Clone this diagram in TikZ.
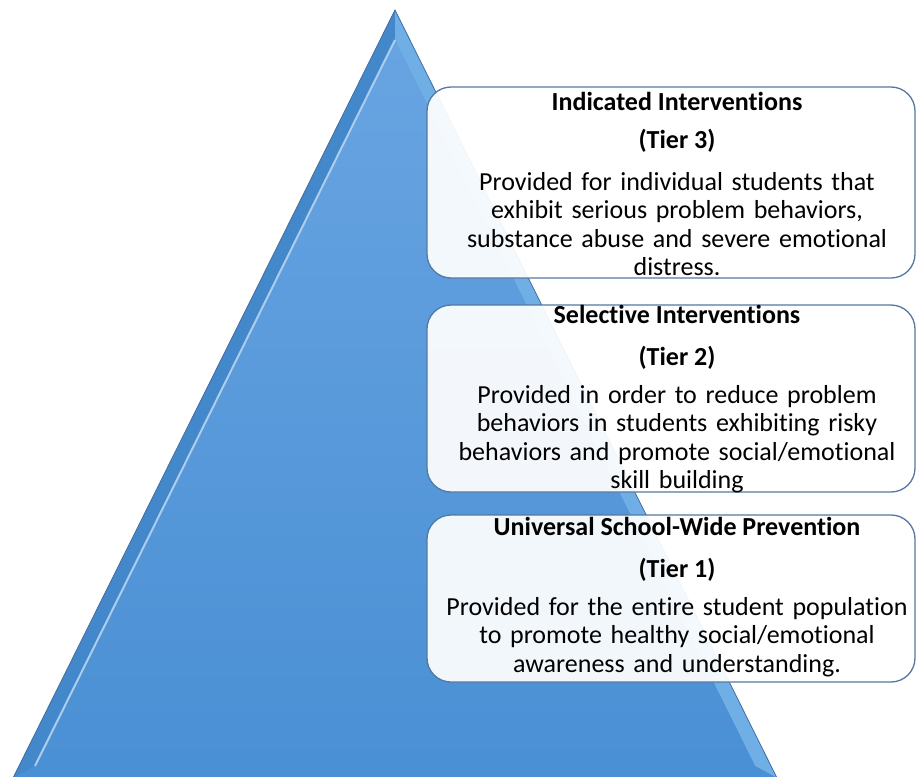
\documentclass[tikz,border=0pt]{standalone}
\usepackage{fontspec}
\setmainfont{Carlito}[Ligatures=NoCommon]
\usetikzlibrary{calc,positioning}
\definecolor{pyrblue}{RGB}{74,144,212}
\definecolor{pyrtop}{RGB}{104,164,226}
\definecolor{pyrdark}{RGB}{68,136,204}
\definecolor{pyrlight}{RGB}{112,174,230}
\definecolor{pyredge}{RGB}{70,110,160}
\definecolor{boxedge}{RGB}{84,120,160}
\tikzset{
	tierbox/.style={draw=boxedge, line width=1.3pt, rounded corners=24pt, fill=white, fill opacity=0.93},
	tierhead/.style={anchor=base, font=\fontsize{26}{30}\selectfont\bfseries},
	tierbody/.style={anchor=base, align=center, text width=480pt, inner sep=0pt, font=\fontsize{26}{28.5}\selectfont}
}

\begin{document}
\begin{tikzpicture}[x=1pt, y=-1pt]
		%%%%% START %%%%%
		\useasboundingbox (0, 0) rectangle (917, 776);
		
		% pyramid
		\fill[pyrblue] (395, 10) -- (13, 778) -- (777, 778) -- cycle;
		\fill[pyrdark] (395, 10) -- (13, 778) -- (35, 766) -- (395, 40) -- cycle;
		\fill[pyrlight] (395, 10) -- (777, 778) -- (755, 766) -- (395, 40) -- cycle;
		\fill[pyrblue] (13, 778) -- (35, 766) -- (755, 766) -- (777, 778) -- cycle;
		\shade[top color=pyrtop, bottom color=pyrblue] (395, 40) -- (35, 766) -- (755, 766) -- cycle;
		\draw[white!55!pyrblue, line width=2pt] (35, 766) -- (395, 40);
		\draw[pyredge, line width=0.8pt] (13, 778) -- (395, 10) -- (777, 778);
		
		% tier 3
		\draw[tierbox] (427, 87) rectangle (915, 278);
		\node[tierhead] (head3) at (677, 110) {Indicated Interventions};
		\node[tierhead] (tier3) at (677, 148) {(Tier 3)};
		\node[tierbody] (body3) at (677, 190) {Provided for individual students that\\ exhibit serious problem behaviors,\\ substance abuse and severe emotional\\ distress.};
		
		% tier 2
		\draw[tierbox] (427, 305) rectangle (915, 492);
		\node[tierhead] (head2) at (677, 323) {Selective Interventions};
		\node[tierhead] (tier2) at (677, 365) {(Tier 2)};
		\node[tierbody] (body2) at (677, 403) {Provided in order to reduce problem\\ behaviors in students exhibiting risky\\ behaviors and promote social/emotional\\ skill building};
		
		% tier 1
		\draw[tierbox] (427, 515) rectangle (915, 682);
		\node[tierhead] (head1) at (677, 535) {Universal School-Wide Prevention};
		\node[tierhead] (tier1) at (677, 577) {(Tier 1)};
		\node[tierbody] (body1) at (677, 615) {Provided for the entire student population\\ to promote healthy social/emotional\\ awareness and understanding.};
		%%%%% END %%%%%
\end{tikzpicture}
\end{document}
